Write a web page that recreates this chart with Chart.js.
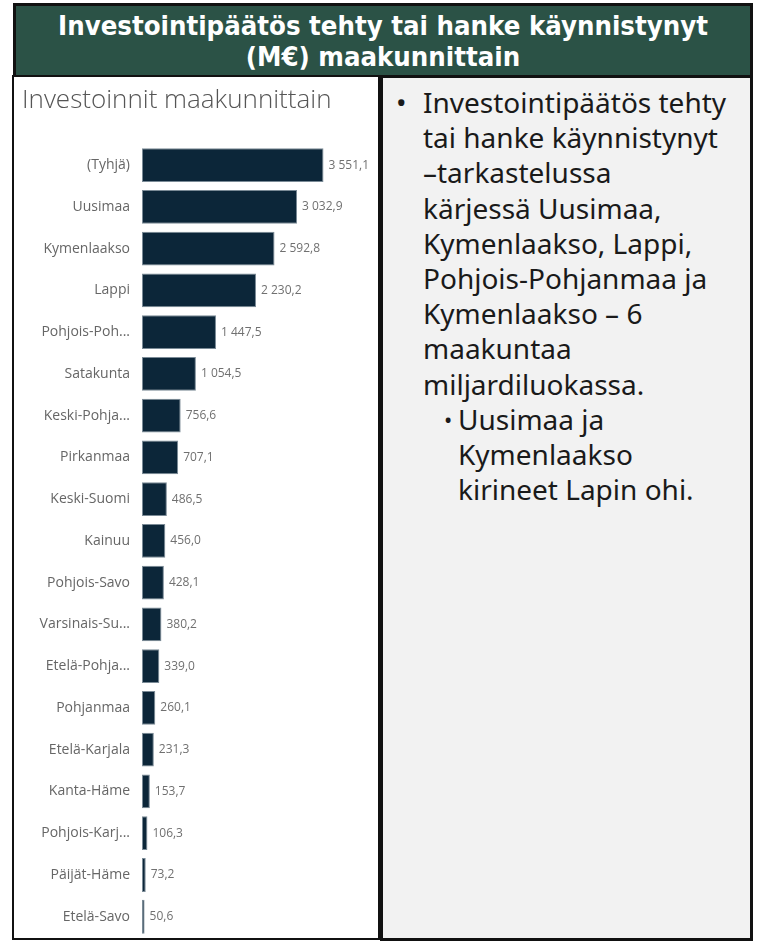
<!DOCTYPE html>
<html>
<head>
<meta charset="utf-8">
<script src="https://cdn.jsdelivr.net/npm/chart.js@4.4.1/dist/chart.umd.min.js"></script>
<style>
  html, body { margin:0; padding:0; background:#ffffff; width:757px; height:944px; overflow:hidden; }
  #header { position:absolute; left:13px; top:3px; width:734px; height:68px; background:#2b5246;
    border:3px solid #111; color:#fff; font-family:"DejaVu Sans",sans-serif; font-stretch:condensed;
    font-weight:bold; font-size:27.3px; line-height:31px; text-align:center; padding-top:4px; box-sizing:content-box; }
  #left { position:absolute; left:12px; top:75px; width:364px; height:861px; border:2px solid #111; background:#fff; overflow:hidden; }
  #right { position:absolute; left:380px; top:75px; width:367px; height:860px; border:3px solid #111; background:#f2f2f2;
    font-family:"Noto Sans",sans-serif; font-size:28px; line-height:35.2px; color:#1a1a1a; white-space:nowrap; }
  .b1 { position:relative; padding-left:40px; padding-top:7px; }
  .b1::before { content:"•"; position:absolute; left:13px; }
  .b2 { position:relative; padding-left:75px; }
  .b2::before { content:"•"; position:absolute; left:61px; font-size:22px; }
  canvas { position:absolute; left:0; top:0; }
</style>
</head>
<body>
<div id="header">Investointipäätös tehty tai hanke käynnistynyt<br>(M€) maakunnittain</div>
<div id="left"><canvas id="c" width="364" height="881"></canvas></div>
<div id="right">
  <div class="b1">Investointipäätös tehty<br>tai hanke käynnistynyt<br>–tarkastelussa<br>kärjessä Uusimaa,<br>Kymenlaakso, Lappi,<br>Pohjois-Pohjanmaa ja<br>Kymenlaakso – 6<br>maakuntaa<br>miljardiluokassa.</div>
  <div class="b2">Uusimaa ja<br>Kymenlaakso<br>kirineet Lapin ohi.</div>
</div>
<script>
const chartTitle = "Investoinnit maakunnittain";
const categories = ["(Tyhjä)","Uusimaa","Kymenlaakso","Lappi","Pohjois-Poh...","Satakunta","Keski-Pohja...","Pirkanmaa","Keski-Suomi","Kainuu","Pohjois-Savo","Varsinais-Su...","Etelä-Pohja...","Pohjanmaa","Etelä-Karjala","Kanta-Häme","Pohjois-Karj...","Päijät-Häme","Etelä-Savo"];
const values = [3551.1,3032.9,2592.8,2230.2,1447.5,1054.5,756.6,707.1,486.5,456.0,428.1,380.2,339.0,260.1,231.3,153.7,106.3,73.2,50.6];

function fmt(v){
  const parts = v.toFixed(1).split(".");
  const int = parts[0].replace(/\B(?=(\d{3})+(?!\d))/g, " ");
  return int + "," + parts[1];
}

const valueLabels = {
  id:'valueLabels',
  afterDatasetsDraw(chart){
    const ctx = chart.ctx;
    const meta = chart.getDatasetMeta(0);
    ctx.save();
    ctx.font = '12px "Open Sans", sans-serif';
    ctx.fillStyle = '#707070';
    ctx.textBaseline = 'middle';
    ctx.textAlign = 'left';
    meta.data.forEach((bar,i)=>{
      ctx.fillText(fmt(values[i]), bar.x + 5, bar.y);
    });
    ctx.restore();
  }
};

new Chart(document.getElementById('c'), {
  type:'bar',
  data:{ labels:categories, datasets:[{ data:values, backgroundColor:'#0c2639', borderColor:'#7a8a96', borderWidth:1, borderSkipped:false, categoryPercentage:1, barPercentage:0.81 }]},
  options:{
    indexAxis:'y', responsive:false, maintainAspectRatio:false, animation:false,
    layout:{ padding:{ left:8, right:6, top:0, bottom:0 } },
    plugins:{
      legend:{display:false}, tooltip:{enabled:false},
      title:{ display:true, text:chartTitle, align:'start', color:'#555', font:{ family:'"Open Sans", sans-serif', size:26, weight:'300', lineHeight:1.2 }, padding:{ top:8, bottom:28 } }
    },
    scales:{
      x:{ display:false, min:0, max:4500 },
      y:{ grid:{display:false, drawTicks:false}, border:{display:false},
          ticks:{ color:'#666', font:{ family:'"Open Sans", sans-serif', size:14 }, padding:12 },
          afterFit(s){ s.width = 120; } }
    }
  },
  plugins:[valueLabels]
});
</script>
</body>
</html>
